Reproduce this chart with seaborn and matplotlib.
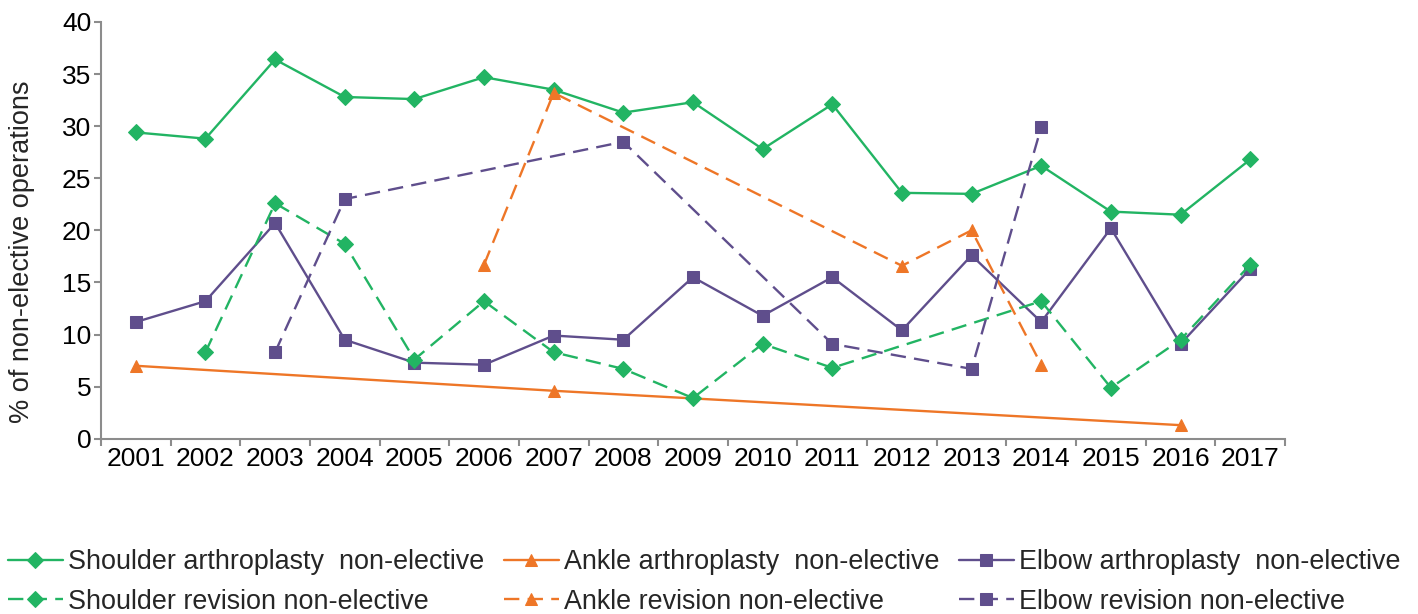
import numpy as np
import pandas as pd
import matplotlib
matplotlib.use("Agg")
import matplotlib.pyplot as plt
import seaborn as sns

years = list(range(2001, 2018))

shoulder_arthroplasty = [29.4, 28.8, 36.4, 32.8, 32.6, 34.7, 33.5, 31.3, 32.3, 27.8,
                         32.1, 23.6, 23.5, 26.2, 21.8, 21.5, 26.8]
ankle_arthroplasty = [7.0, None, None, None, None, None, 4.6, None, None, None,
                      None, None, None, None, None, 1.3, None]
elbow_arthroplasty = [11.2, 13.2, 20.7, 9.5, 7.3, 7.1, 9.9, 9.5, 15.5, 11.8,
                      15.5, 10.4, 17.6, 11.2, 20.2, 9.1, 16.3]
shoulder_revision = [None, 8.3, 22.6, 18.7, 7.6, 13.2, 8.3, 6.7, 3.9, 9.1,
                     6.8, None, None, 13.2, 4.9, 9.5, 16.7]
ankle_revision = [None, None, None, None, None, 16.7, 33.2, None, None, None,
                  None, 16.6, 20.0, 7.1, None, None, None]
elbow_revision = [None, None, 8.3, 23.0, None, None, None, 28.5, None, None,
                  9.1, None, 6.7, 29.9, None, None, None]

labels = [
    "Shoulder arthroplasty  non-elective",
    "Ankle arthroplasty  non-elective",
    "Elbow arthroplasty  non-elective",
    "Shoulder revision non-elective",
    "Ankle revision non-elective",
    "Elbow revision non-elective",
]

GREEN = "#22b463"
ORANGE = "#ee7627"
PURPLE = "#5f4e8c"
GREY = "#8c8c8c"

series = [
    (labels[0], shoulder_arthroplasty, GREEN, "D", "-"),
    (labels[1], ankle_arthroplasty, ORANGE, "^", "-"),
    (labels[2], elbow_arthroplasty, PURPLE, "s", "-"),
    (labels[3], shoulder_revision, GREEN, "D", "--"),
    (labels[4], ankle_revision, ORANGE, "^", "--"),
    (labels[5], elbow_revision, PURPLE, "s", "--"),
]

sns.set_style("white")
plt.rcParams["font.family"] = ["Liberation Sans", "DejaVu Sans"]

fig = plt.figure(figsize=(14.18, 6.14), dpi=100)
ax = fig.add_axes([0.0712, 0.2855, 0.8350, 0.6787])

marker_sizes = {"D": 8, "^": 9, "s": 9}
handles = {}
for name, vals, color, marker, ls in series:
    df = pd.DataFrame({"year": years, "value": vals}).dropna()
    sns.lineplot(data=df, x="year", y="value", ax=ax, color=color,
                 marker=marker, markersize=marker_sizes[marker],
                 markeredgecolor=color, linewidth=1.7, linestyle=ls,
                 label=name, legend=False)
    line = ax.get_lines()[-1]
    if ls == "--":
        line.set_dashes((6.5, 3.5))
    handles[name] = line

ax.set_xlim(2000.5, 2017.5)
ax.set_ylim(0, 40)
ax.set_yticks(np.arange(0, 41, 5))
ax.set_xticks(np.arange(2000.5, 2018, 1.0))
ax.set_xticklabels([])
ax.set_xticks(years, minor=True)
ax.set_xticklabels([str(y) for y in years], minor=True)

ax.tick_params(axis="x", which="major", direction="out", length=5, width=1.5,
               color=GREY, bottom=True)
ax.tick_params(axis="x", which="minor", length=0, labelsize=19, pad=6,
               labelcolor="black")
ax.tick_params(axis="y", direction="out", length=5, width=1.5, color=GREY,
               left=True, labelsize=19, pad=2, labelcolor="black")

for side in ["top", "right"]:
    ax.spines[side].set_visible(False)
for side in ["left", "bottom"]:
    ax.spines[side].set_color(GREY)
    ax.spines[side].set_linewidth(1.5)

ax.set_xlabel("")
ax.set_ylabel("% of non-elective operations", fontsize=19.5)
ax.yaxis.set_label_coords(-0.0555, 0.448)

order = [labels[0], labels[3], labels[1], labels[4], labels[2], labels[5]]
leg = fig.legend([handles[n] for n in order], order, loc="upper left",
                 bbox_to_anchor=(0.0015, 0.114), ncol=3, frameon=False,
                 prop={"size": 19.4},
                 handlelength=2.05, handletextpad=0.19, columnspacing=0.72,
                 labelspacing=0.5, borderaxespad=0.0, borderpad=0.2)

fig.savefig("out.png", dpi=100)
